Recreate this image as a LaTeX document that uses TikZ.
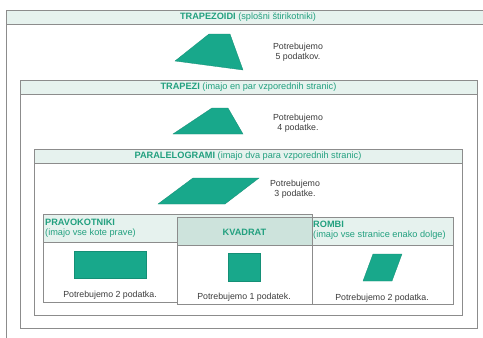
\documentclass[tikz,border=0pt]{standalone}
\usepackage{fontspec}
\setmainfont{Liberation Sans}
\definecolor{tealfill}{HTML}{18A88B}
\definecolor{tealtxt}{HTML}{22A07F}
\definecolor{band}{HTML}{E6F2EE}
\definecolor{bandd}{HTML}{CDE3DC}
\definecolor{frame}{HTML}{8C8C8C}
\definecolor{bodytxt}{HTML}{3C3C3C}
\tikzset{
  boxframe/.style={draw=frame, line width=0.9pt, fill=white},
  bandfill/.style={draw=frame, line width=0.9pt, fill=band},
  banddark/.style={draw=frame, line width=0.9pt, fill=bandd},
  shapefill/.style={fill=tealfill, draw=tealfill!85!black, line width=0.3pt},
  htext/.style={text=tealtxt, font=\fontsize{9.2}{10}\selectfont, inner sep=0pt},
  btext/.style={text=bodytxt, font=\fontsize{8.8}{10.5}\selectfont, inner sep=0pt, align=center},
}
\begin{document}
\begin{tikzpicture}[x=1pt,y=-1pt]
\useasboundingbox (0,0) rectangle (483,338);
\clip (0,0) rectangle (483,338);
\fill[white] (0,0) rectangle (483,338);
% TRAPEZOIDI
\draw[boxframe] (6,10) rectangle (490,350);
\draw[bandfill] (6,10) rectangle (490,24);
\node[htext] (h1) at (248,17) {\textbf{TRAPEZOIDI} (splošni štirikotniki)};
\fill[shapefill] (175,61) -- (209,34) -- (230,34) -- (243,70) -- cycle;
\node[btext] (t1) at (298,52) {Potrebujemo\\5 podatkov.};
% TRAPEZI
\draw[boxframe] (20,80) rectangle (477,328);
\draw[bandfill] (20,80) rectangle (477,94);
\node[htext] (h2) at (248.5,87) {\textbf{TRAPEZI} (imajo en par vzporednih stranic)};
\fill[shapefill] (173,134) -- (212,108) -- (228,108) -- (243,134) -- cycle;
\node[btext] (t2) at (298,123) {Potrebujemo\\4 podatke.};
% PARALELOGRAMI
\draw[boxframe] (34,149) rectangle (462,315);
\draw[bandfill] (34,149) rectangle (462,163);
\node[htext] (h3) at (248,156) {\textbf{PARALELOGRAMI} (imajo dva para vzporednih stranic)};
\fill[shapefill] (158,204) -- (193,178) -- (259,178) -- (225,204) -- cycle;
\node[btext] (t3) at (295,189) {Potrebujemo\\3 podatke.};
% PRAVOKOTNIKI
\draw[boxframe] (43,214) rectangle (312,302);
\draw[bandfill] (43,214) rectangle (312,242);
\node[htext, anchor=west, align=left] (h4) at (45,228) {\textbf{PRAVOKOTNIKI}\\(imajo vse kote prave)};
\fill[shapefill] (74,251) rectangle (146,278);
\node[btext] (t4) at (110,295) {Potrebujemo 2 podatka.};
% ROMBI
\draw[boxframe] (177,217) rectangle (453,304);
\draw[bandfill] (177,217) rectangle (453,245);
\node[htext, anchor=west, align=left] (h6) at (313,230) {\textbf{ROMBI}\\(imajo vse stranice enako dolge)};
\fill[shapefill] (363,281) -- (373,254) -- (402,254) -- (392,281) -- cycle;
\node[btext] (t6) at (382,298) {Potrebujemo 2 podatka.};
% KVADRAT
\draw[boxframe] (177,217) rectangle (312,304);
\draw[banddark] (177,217) rectangle (312,245);
\node[htext] (h5) at (244.5,232) {\textbf{KVADRAT}};
\fill[shapefill] (228,253) rectangle (260,281);
\node[btext] (t5) at (244,297) {Potrebujemo 1 podatek.};
\end{tikzpicture}
\end{document}
